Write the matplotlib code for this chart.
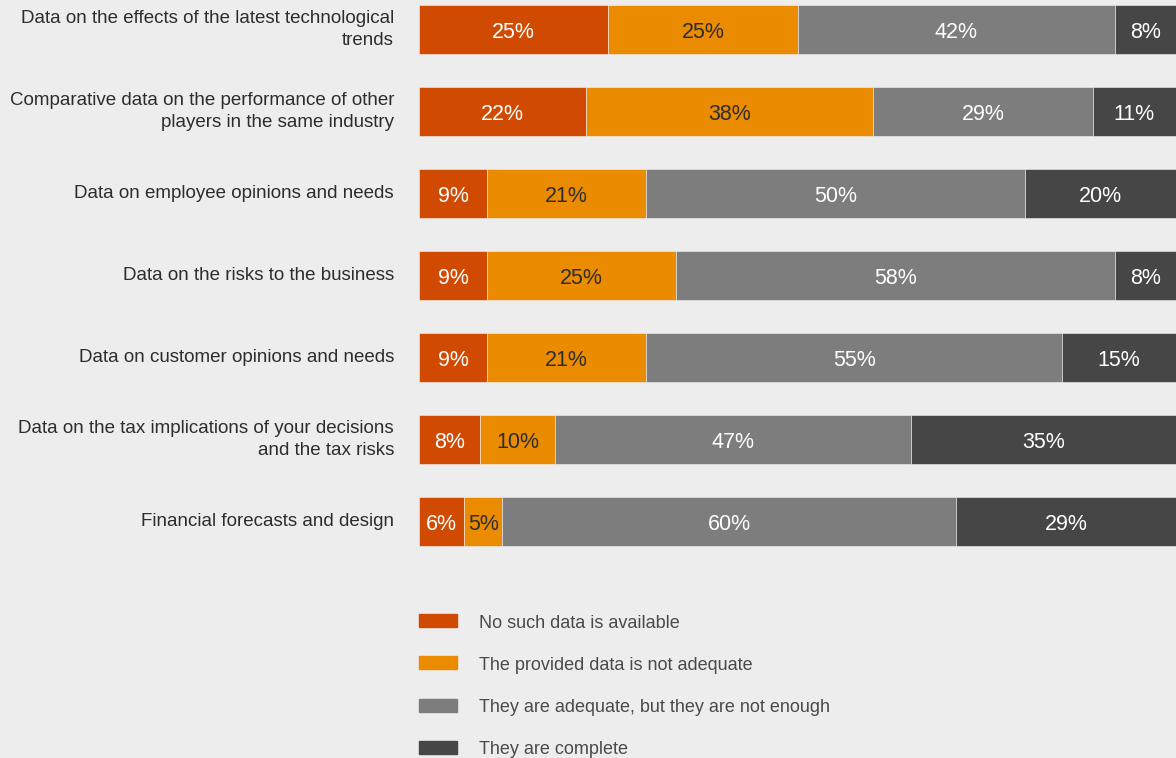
import numpy as np
import matplotlib.pyplot as plt
from matplotlib.patches import Rectangle

plt.rcParams['font.family'] = ['Liberation Sans', 'DejaVu Sans']

# Survey answers per data type (percent of respondents)
categories = [
    'Data on the effects of the latest technological\ntrends',
    'Comparative data on the performance of other\nplayers in the same industry',
    'Data on employee opinions and needs',
    'Data on the risks to the business',
    'Data on customer opinions and needs',
    'Data on the tax implications of your decisions\nand the tax risks',
    'Financial forecasts and design',
]
not_available = [25, 22, 9, 9, 9, 8, 6]
not_adequate = [25, 38, 21, 25, 21, 10, 5]
not_enough = [42, 29, 50, 58, 55, 47, 60]
complete = [8, 11, 20, 8, 15, 35, 29]

series_names = [
    'No such data is available',
    'The provided data is not adequate',
    'They are adequate, but they are not enough',
    'They are complete',
]
colors = ['#d04a02', '#eb8c00', '#7d7d7d', '#464646']
text_colors = ['white', '#2d2d2d', 'white', 'white']
bg = '#ededed'

W, H = 1176, 758
fig = plt.figure(figsize=(W / 100, H / 100), dpi=100, facecolor=bg)

# axes spans the bar area; 100% reaches the right edge
ax_top, ax_bot = 0, 570
ax = fig.add_axes([419 / W, 1 - ax_bot / H, 757 / W, (ax_bot - ax_top) / H])
ax.set_facecolor(bg)

row_pitch = 82
first_center = 29.5
ax.set_ylim((ax_bot - first_center) / row_pitch, (ax_top - first_center) / row_pitch)
ax.set_xlim(0, 100)

y = np.arange(len(categories))
left = np.zeros(len(categories))
for vals, col, tcol in zip([not_available, not_adequate, not_enough, complete], colors, text_colors):
    vals = np.array(vals, dtype=float)
    ax.barh(y, vals, left=left, height=49 / row_pitch, color=col,
            edgecolor='#f2f2f2', linewidth=0.4)
    for yi, l, v in zip(y, left, vals):
        ax.text(l + v / 2, yi, f'{int(v)}%', ha='center', va='center_baseline',
                fontsize=15.5, color=tcol)
    left += vals

ax.set_yticks(y)
ax.set_yticklabels(categories, fontsize=13.5, color='#2d2d2d', linespacing=1.4)
for t in ax.get_yticklabels():
    t.set_verticalalignment('center')
ax.tick_params(axis='y', length=0, pad=18)
ax.set_xticks([])
for s in ax.spines.values():
    s.set_visible(False)

# legend drawn as swatches with text beside them
leg_y = [620, 662, 705, 747]
for name, col, py in zip(series_names, colors, leg_y):
    fig.add_artist(Rectangle((419 / W, 1 - (py + 6.5) / H), 38 / W, 13 / H,
                             transform=fig.transFigure, color=col))
    fig.text(479 / W, 1 - (py + 1) / H, name, ha='left', va='center_baseline',
             fontsize=13, color='#4a4a4a')

fig.savefig('out.png', dpi=100, facecolor=bg)
